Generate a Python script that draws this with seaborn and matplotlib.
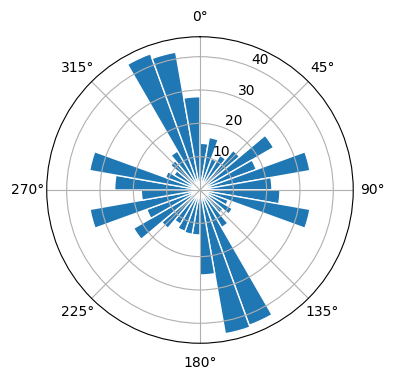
import numpy as np
import matplotlib
matplotlib.use("Agg")
import matplotlib.pyplot as plt
import seaborn as sns

# bar directions (degrees, clockwise from north) and radial values
angles_deg = [5, 15, 25, 35, 45, 55, 65, 75, 85, 95, 105, 115, 125, 135, 145, 155, 165, 175,
              185, 195, 205, 215, 225, 235, 245, 255, 265, 275, 285, 295, 305, 315, 325, 335, 345, 355]
values = [14, 16, 10, 12, 15.5, 25.5, 18, 33.5, 21.6, 24, 33.5, 9, 11.2, 9, 13, 43.2, 43.8, 25.5,
          13.5, 13.5, 13.2, 11.8, 15, 23, 17, 33.5, 17.6, 25.6, 33.6, 11, 9, 11.5, 13.5, 43.5, 42, 28]
bar_width_deg = 10

color = sns.color_palette()[0]

fig = plt.figure(figsize=(3.96, 3.80), dpi=100)
ax = fig.add_axes([0.118, 0.0965, 0.774, 0.807], projection="polar")
ax.set_theta_zero_location("N")
ax.set_theta_direction(-1)

ax.bar(np.deg2rad(angles_deg), values, width=np.deg2rad(bar_width_deg),
       color=color, edgecolor="white", linewidth=1)
ax.set_rticks([10, 20, 30, 40])
ax.grid(True)

fig.savefig("out.png", dpi=100)
